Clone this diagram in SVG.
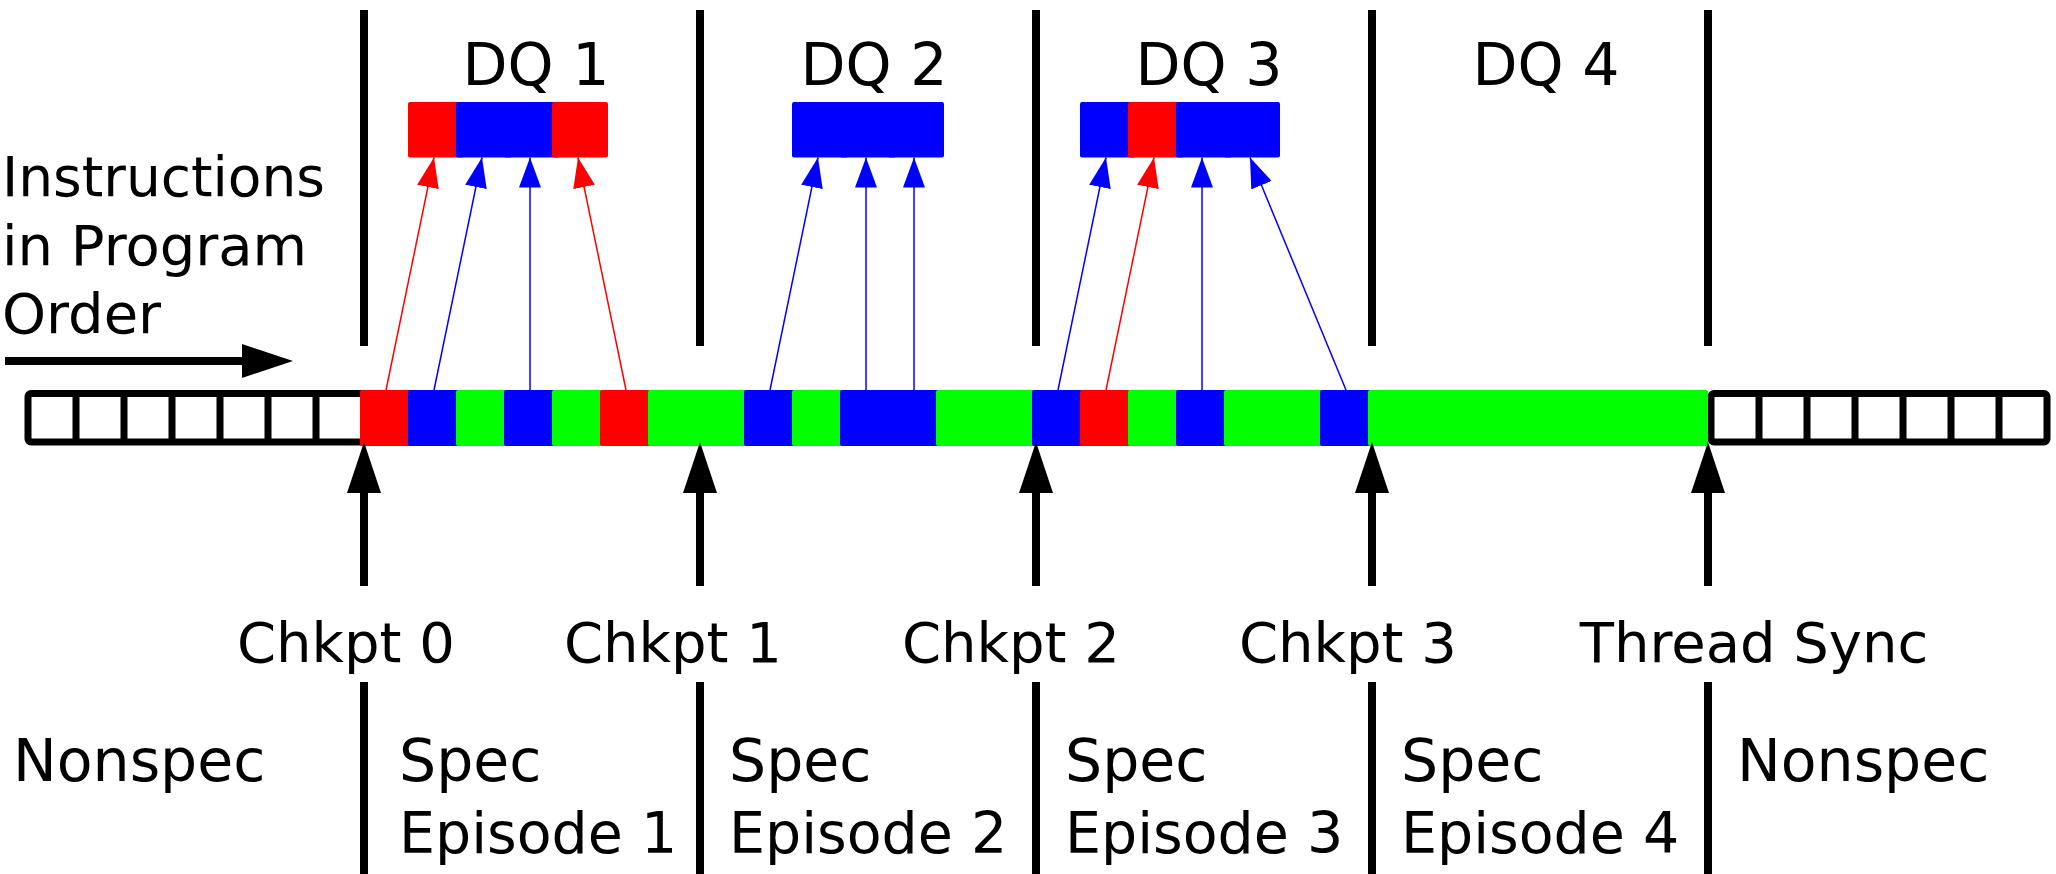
<svg xmlns="http://www.w3.org/2000/svg" width="2056" height="874" viewBox="0 0 2056 874">
<defs>
<style>
text{font-family:"DejaVu Sans","Liberation Sans",sans-serif;font-size:56px;fill:#000}
.dq,.ep{font-size:58.5px}
.ep2{font-size:57px}
.ins{font-size:55px}
.r{fill:#ff0000}.b{fill:#0000ff}.g{fill:#00ff00}
.sep{stroke:#000;stroke-width:8;fill:none}
.wc{fill:#fff;stroke:#000;stroke-width:7;stroke-linejoin:round}
.div{stroke:#000;stroke-width:7}
.lr{stroke:#ff0000;stroke-width:1.5;fill:none;marker-end:url(#hr)}
.lb{stroke:#0000ff;stroke-width:1.5;fill:none;marker-end:url(#hbl)}
.big{stroke:#000;stroke-width:8;fill:none;marker-end:url(#hk)}
</style>
<marker id="hr" markerUnits="userSpaceOnUse" viewBox="0 0 30 22" markerWidth="30" markerHeight="22" refX="30" refY="11" orient="auto"><path d="M0,0 L30,11 L0,22 z" fill="#ff0000"/></marker>
<marker id="hbl" markerUnits="userSpaceOnUse" viewBox="0 0 30 22" markerWidth="30" markerHeight="22" refX="30" refY="11" orient="auto"><path d="M0,0 L30,11 L0,22 z" fill="#0000ff"/></marker>
<marker id="hk" markerUnits="userSpaceOnUse" viewBox="0 0 51 34" markerWidth="51" markerHeight="34" refX="0" refY="17" orient="auto"><path d="M0,0 L51,17 L0,34 z" fill="#000"/></marker>
</defs>

<g id="separators">
<line class="sep" x1="364" y1="10" x2="364" y2="346"/>
<line class="sep" x1="700" y1="10" x2="700" y2="346"/>
<line class="sep" x1="1036" y1="10" x2="1036" y2="346"/>
<line class="sep" x1="1372" y1="10" x2="1372" y2="346"/>
<line class="sep" x1="1708" y1="10" x2="1708" y2="346"/>
<line class="sep" x1="364" y1="682" x2="364" y2="874"/>
<line class="sep" x1="700" y1="682" x2="700" y2="874"/>
<line class="sep" x1="1036" y1="682" x2="1036" y2="874"/>
<line class="sep" x1="1372" y1="682" x2="1372" y2="874"/>
<line class="sep" x1="1708" y1="682" x2="1708" y2="874"/>
</g>

<g id="program-order">
<text class="ins" x="2" y="196">Instructions</text>
<text x="2" y="265">in Program</text>
<text x="2" y="333">Order</text>
</g>

<g id="bar-left">
<rect class="wc" x="28" y="393.5" width="336" height="48.5" rx="3"/>
<line class="div" x1="76" y1="393.5" x2="76" y2="442"/>
<line class="div" x1="124" y1="393.5" x2="124" y2="442"/>
<line class="div" x1="172" y1="393.5" x2="172" y2="442"/>
<line class="div" x1="220" y1="393.5" x2="220" y2="442"/>
<line class="div" x1="268" y1="393.5" x2="268" y2="442"/>
<line class="div" x1="316" y1="393.5" x2="316" y2="442"/>
</g>

<g id="bar-right">
<rect class="wc" x="1711" y="393.5" width="336" height="48.5" rx="3"/>
<line class="div" x1="1759" y1="393.5" x2="1759" y2="442"/>
<line class="div" x1="1807" y1="393.5" x2="1807" y2="442"/>
<line class="div" x1="1855" y1="393.5" x2="1855" y2="442"/>
<line class="div" x1="1903" y1="393.5" x2="1903" y2="442"/>
<line class="div" x1="1951" y1="393.5" x2="1951" y2="442"/>
<line class="div" x1="1999" y1="393.5" x2="1999" y2="442"/>
</g>

<g id="bar-instructions">
<rect class="r" x="360" y="390" width="52" height="56" rx="2"/>
<rect class="b" x="408" y="390" width="52" height="56" rx="2"/>
<rect class="g" x="456" y="390" width="52" height="56" rx="2"/>
<rect class="b" x="504" y="390" width="52" height="56" rx="2"/>
<rect class="g" x="552" y="390" width="52" height="56" rx="2"/>
<rect class="r" x="600" y="390" width="52" height="56" rx="2"/>
<rect class="g" x="648" y="390" width="52" height="56" rx="2"/>
<rect class="g" x="696" y="390" width="52" height="56" rx="2"/>
<rect class="b" x="744" y="390" width="52" height="56" rx="2"/>
<rect class="g" x="792" y="390" width="52" height="56" rx="2"/>
<rect class="b" x="840" y="390" width="52" height="56" rx="2"/>
<rect class="b" x="888" y="390" width="52" height="56" rx="2"/>
<rect class="g" x="936" y="390" width="52" height="56" rx="2"/>
<rect class="g" x="984" y="390" width="52" height="56" rx="2"/>
<rect class="b" x="1032" y="390" width="52" height="56" rx="2"/>
<rect class="r" x="1080" y="390" width="52" height="56" rx="2"/>
<rect class="g" x="1128" y="390" width="52" height="56" rx="2"/>
<rect class="b" x="1176" y="390" width="52" height="56" rx="2"/>
<rect class="g" x="1224" y="390" width="52" height="56" rx="2"/>
<rect class="g" x="1272" y="390" width="52" height="56" rx="2"/>
<rect class="b" x="1320" y="390" width="52" height="56" rx="2"/>
<rect class="g" x="1368" y="390" width="52" height="56" rx="2"/>
<rect class="g" x="1416" y="390" width="52" height="56" rx="2"/>
<rect class="g" x="1464" y="390" width="52" height="56" rx="2"/>
<rect class="g" x="1512" y="390" width="52" height="56" rx="2"/>
<rect class="g" x="1560" y="390" width="52" height="56" rx="2"/>
<rect class="g" x="1608" y="390" width="52" height="56" rx="2"/>
<rect class="g" x="1656" y="390" width="52" height="56" rx="2"/>
</g>

<g id="dq1">
<text class="dq" x="536" y="85" text-anchor="middle">DQ 1</text>
<rect class="r" x="408" y="102" width="56" height="55.5" rx="2"/>
<rect class="b" x="456" y="102" width="56" height="55.5" rx="2"/>
<rect class="b" x="504" y="102" width="56" height="55.5" rx="2"/>
<rect class="r" x="552" y="102" width="56" height="55.5" rx="2"/>
</g>
<g id="dq2">
<text class="dq" x="874" y="85" text-anchor="middle">DQ 2</text>
<rect class="b" x="792" y="102" width="56" height="55.5" rx="2"/>
<rect class="b" x="840" y="102" width="56" height="55.5" rx="2"/>
<rect class="b" x="888" y="102" width="56" height="55.5" rx="2"/>
</g>
<g id="dq3">
<text class="dq" x="1209" y="85" text-anchor="middle">DQ 3</text>
<rect class="b" x="1080" y="102" width="56" height="55.5" rx="2"/>
<rect class="r" x="1128" y="102" width="56" height="55.5" rx="2"/>
<rect class="b" x="1176" y="102" width="56" height="55.5" rx="2"/>
<rect class="b" x="1224" y="102" width="56" height="55.5" rx="2"/>
</g>
<g id="dq4">
<text class="dq" x="1546" y="85" text-anchor="middle">DQ 4</text>
</g>

<g id="checkpoints">
<text x="346" y="662" text-anchor="middle">Chkpt 0</text>
<text x="673" y="662" text-anchor="middle">Chkpt 1</text>
<text x="1011" y="662" text-anchor="middle">Chkpt 2</text>
<text x="1348" y="662" text-anchor="middle">Chkpt 3</text>
<text x="1754" y="662" text-anchor="middle">Thread Sync</text>
</g>

<g id="episodes">
<text class="ep" x="13" y="781">Nonspec</text>
<text class="ep" x="399" y="781">Spec<tspan class="ep2" x="399" y="853">Episode 1</tspan></text>
<text class="ep" x="729" y="781">Spec<tspan class="ep2" x="729" y="853">Episode 2</tspan></text>
<text class="ep" x="1065" y="781">Spec<tspan class="ep2" x="1065" y="853">Episode 3</tspan></text>
<text class="ep" x="1401" y="781">Spec<tspan class="ep2" x="1401" y="853">Episode 4</tspan></text>
<text class="ep" x="1737" y="781">Nonspec</text>
</g>

<g id="connectors">
<line class="big" x1="5" y1="361" x2="242" y2="361"/>
<line class="big" x1="364" y1="586" x2="364" y2="493"/>
<line class="big" x1="700" y1="586" x2="700" y2="493"/>
<line class="big" x1="1036" y1="586" x2="1036" y2="493"/>
<line class="big" x1="1372" y1="586" x2="1372" y2="493"/>
<line class="big" x1="1708" y1="586" x2="1708" y2="493"/>
<line class="lr" x1="386" y1="390" x2="434" y2="157.5"/>
<line class="lb" x1="434" y1="390" x2="482" y2="157.5"/>
<line class="lb" x1="530" y1="390" x2="530" y2="157.5"/>
<line class="lr" x1="626" y1="390" x2="578" y2="157.5"/>
<line class="lb" x1="770" y1="390" x2="818" y2="157.5"/>
<line class="lb" x1="866" y1="390" x2="866" y2="157.5"/>
<line class="lb" x1="914" y1="390" x2="914" y2="157.5"/>
<line class="lb" x1="1058" y1="390" x2="1106" y2="157.5"/>
<line class="lr" x1="1106" y1="390" x2="1154" y2="157.5"/>
<line class="lb" x1="1202" y1="390" x2="1202" y2="157.5"/>
<line class="lb" x1="1346" y1="390" x2="1250" y2="157.5"/>
</g>
</svg>
